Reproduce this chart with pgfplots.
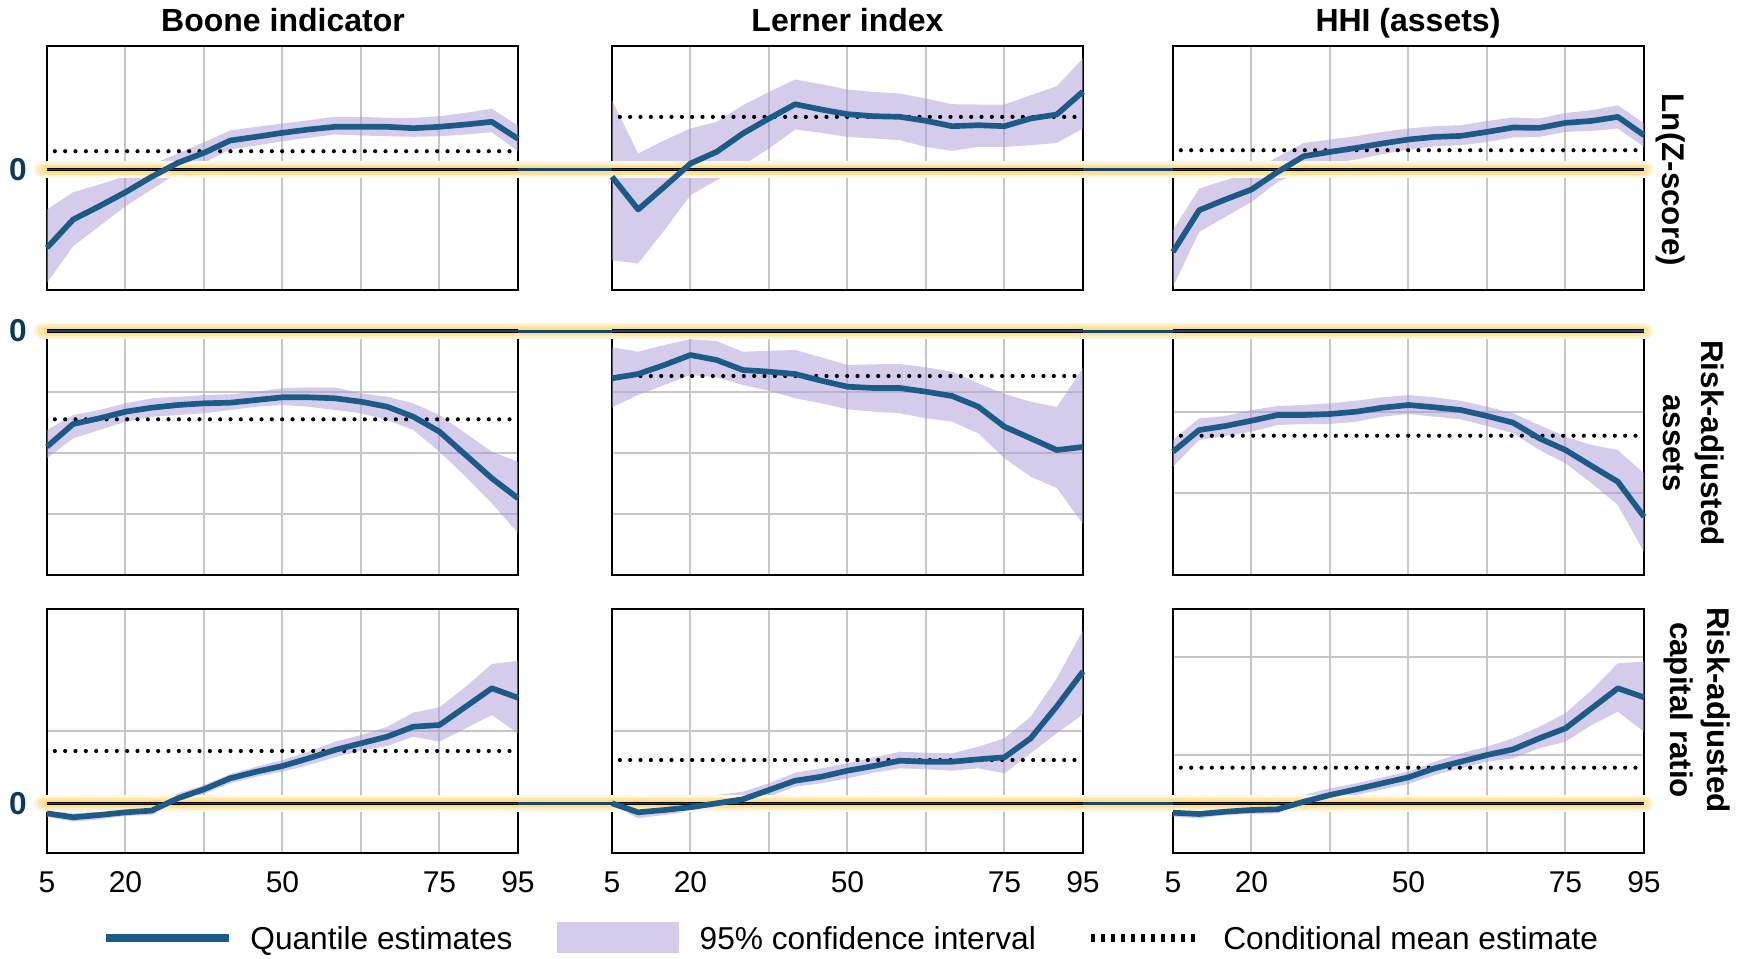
\documentclass[border=0pt]{standalone}
\usepackage{fontspec}
\setmainfont{Liberation Sans}
\setsansfont{Liberation Sans}
\usepackage{pgfplots}
\usepackage{pgfplotstable}
\pgfplotsset{compat=1.18}
\usepgfplotslibrary{fillbetween}

\definecolor{qblue}{HTML}{1C5A88}
\definecolor{bandc}{HTML}{AB99D9}
\definecolor{navy}{HTML}{0B3A5E}
\definecolor{gapblue}{HTML}{17476E}
\definecolor{glowA}{HTML}{FFF8E4}
\definecolor{glowB}{HTML}{FFF0C6}
\definecolor{glowC}{HTML}{FFE6A6}
\definecolor{glowD}{HTML}{FFDD8A}
\definecolor{gridc}{HTML}{C6C6C6}

% values in pixels above the zero line of each panel; columns: quantile index, estimate, lower, upper
\pgfplotstableread{
i q lo hi
0 -78.3 -113.3 -40
1 -50 -76.7 -22.7
2 -36.7 -56.7 -15
3 -22.7 -36.7 -6.7
4 -7.3 -20 5
5 6.7 -3.3 16
6 16.7 6.7 27.3
7 29 20 39
8 32.7 24 42.7
9 36.7 28.3 46
10 40 31.7 49.3
11 42.7 35 52.7
12 42.7 34 52.7
13 42.7 33.3 51.7
14 41.3 32.7 51.7
15 42.7 33.3 53.3
16 45 35 56.7
17 47.7 37.3 60.7
18 30.7 18.3 44
}\tabBone
\pgfplotstableread{
i q lo hi
0 -7.3 -90.7 69.3
1 -40 -94 16
2 -17.3 -60.7 29.3
3 6 -25.7 41
4 17.7 -10.7 47.6
5 36 4.3 64.3
6 51 21 77.6
7 65.3 40 90
8 60 36.6 85.3
9 55.3 32.6 80
10 53.3 31 77.6
11 52.7 29.3 76
12 48.7 22.6 71
13 43.3 18.6 65.3
14 44.3 22.6 65
15 43.3 22.6 65
16 51 24.3 74.3
17 55 26.6 83.3
18 78 41 111.3
}\tabLone
\pgfplotstableread{
i q lo hi
0 -82.4 -117.4 -60.7
1 -40.7 -62.4 -19
2 -30 -47.4 -10.7
3 -20 -32.4 -2.4
4 -2.4 -12.4 12.6
5 13.3 -0.7 26.6
6 17.6 6 30
7 21.6 10 33.3
8 26 15.3 37.6
9 30 20 41
10 32.6 23.3 43.3
11 33.6 24.3 44.3
12 37.6 27.6 48.6
13 42 32 52
14 41.6 32.6 51
15 46.6 37.6 56.6
16 48.6 38.6 59.3
17 52.6 41 64.3
18 34.3 22.6 46
}\tabHone
\pgfplotstableread{
i q lo hi
0 -115.7 -127.3 -99
1 -93 -107.3 -84
2 -87.3 -99 -79
3 -80.7 -90.7 -72.3
4 -76.7 -85.7 -67.3
5 -74 -84 -65.7
6 -72.3 -82.3 -64
7 -71.7 -79 -63.3
8 -69 -75.7 -60.7
9 -66.3 -74 -57.3
10 -66.3 -75.7 -56.3
11 -67.3 -79 -56.3
12 -70.7 -82.3 -62.3
13 -75.7 -89 -65.7
14 -85.7 -99 -72.3
15 -100.7 -120.7 -84
16 -124 -145.7 -102.3
17 -147.3 -172.3 -120.7
18 -167.3 -202 -130.7
}\tabBtwo
\pgfplotstableread{
i q lo hi
0 -47.3 -76.3 -16.3
1 -43 -64 -20.7
2 -34 -54 -14
3 -24 -44 -8.3
4 -29 -46.3 -10
5 -39 -54 -20.7
6 -40.7 -59.7 -19.7
7 -43 -67.3 -19
8 -49.7 -72.3 -26.3
9 -55.7 -78.3 -34
10 -57 -80.7 -33.3
11 -57 -82.3 -33
12 -60.7 -87.3 -36.3
13 -65 -90.7 -40.7
14 -75.7 -102.3 -52.3
15 -95.7 -127.3 -63
16 -107.3 -145.7 -70.7
17 -119 -157 -76
18 -116 -193 -37
}\tabLtwo
\pgfplotstableread{
i q lo hi
0 -120.7 -135.7 -109
1 -99 -109 -87.3
2 -95 -105 -85
3 -89.7 -100.7 -79
4 -84 -94 -75
5 -84 -93 -74
6 -83 -93 -72.3
7 -80.7 -90.7 -69.7
8 -76.7 -85.7 -66.3
9 -74 -83 -64
10 -76.3 -85.7 -66.3
11 -79 -88.3 -69.7
12 -85 -95 -75.7
13 -91.7 -102.3 -82.3
14 -107.3 -119 -94
15 -119 -132.3 -105.7
16 -135 -152.3 -114
17 -150.7 -174 -119
18 -185.7 -221 -142.3
}\tabHtwo
\pgfplotstableread{
i q lo hi
0 -10 -13.4 -6.7
1 -14 -18.4 -10
2 -11.7 -16 -8.3
3 -9 -12.7 -5
4 -7.3 -11.7 -1.7
5 5 0.6 10
6 14 9.3 18.3
7 25 20 29.3
8 31.6 26.6 36.6
9 37.3 31.6 43.3
10 45 38.3 51.6
11 53.3 46 61.6
12 60 52.6 68.3
13 66.6 57.3 76.6
14 76.6 66.6 90.6
15 78.3 61.6 96
16 96.6 75 116.6
17 115 88.3 139.3
18 105.6 70 142.6
}\tabBthree
\pgfplotstableread{
i q lo hi
0 0 -1.7 1.7
1 -9 -15 -5
2 -6.7 -11.7 -2.7
3 -4 -8.4 1.6
4 0 -3.4 8.3
5 4 -1.7 11.6
6 13.3 6.6 20
7 22.6 16.6 30.6
8 26.6 20 35
9 32.6 25 40
10 37.3 30.6 46
11 42.6 35 51.6
12 41.6 34 50.6
13 41.6 32.6 50
14 44 35 56.6
15 46 30 65
16 65 50 86.6
17 97 70 125
18 131.8 89 173
}\tabLthree
\pgfplotstableread{
i q lo hi
0 -9.4 -13.4 -6
1 -10.7 -15 -7.3
2 -8.4 -11.7 -5
3 -6.7 -10.7 -2.7
4 -6 -10 0
5 1.6 -3.4 8.3
6 8.3 1.6 15
7 14 8.3 20
8 20 14 26
9 26 19.3 31.6
10 35 28.3 41.6
11 41.6 35 50
12 48.3 41.6 56.6
13 54 45 65
14 65 55 76.6
15 75 61.6 90
16 95 78.3 113.3
17 115 91.6 140
18 106 71.6 141.6
}\tabHthree

\pgfplotsset{
  panel/.style={
    anchor=north west, scale only axis,
    width=141.3pt, height=73.2pt,
    xmin=0, xmax=18, clip=false,
    axis line style={line width=0.75pt, black},
    xtick={0,3,...,18}, xticklabels={},
    major tick length=0pt, ytick=\empty, yticklabels={},
    xmajorgrids, ymajorgrids,
    major grid style={line width=0.6pt, draw=gridc},
    xticklabel style={font=\fontsize{9}{10}\selectfont, yshift=-2pt},
  },
  row1/.style={ymin=-120.5, ymax=123.5},
  row2/.style={ymin=-244, ymax=0},
  row3/.style={ymin=-49.7, ymax=194.3, xticklabels={5,20,,50,,75,95}},
  qline/.style={line width=1.7pt, qblue, line join=round},
  meanline/.style={line width=1.25pt, black, line cap=round, dash pattern=on 0pt off 3.1pt},
}

% #1 left, #2 top, #3 options, #4 table, #5 conditional mean
\newcommand{\panel}[5]{%
  \begin{axis}[panel, at={(#1,#2)}, #3]
    \addplot[name path=hi, draw=none] table[x=i, y=hi] {#4};
    \addplot[name path=lo, draw=none] table[x=i, y=lo] {#4};
    \addplot[fill=bandc, fill opacity=0.5, draw=none] fill between[of=hi and lo];
    \draw[black, line width=1pt] (axis cs:0,0) -- (axis cs:18,0);
    \draw[gapblue, line width=0.35pt] (axis cs:0,0) -- (axis cs:18,0);
    \addplot[meanline] coordinates {(0.3,#5) (17.7,#5)};
    \addplot[qline] table[x=i, y=q] {#4};
  \end{axis}}

\begin{document}
\begin{tikzpicture}
\begin{scope}[x=0.3pt, y=-0.3pt]
  \path (0,0) rectangle (1749,959);
  \foreach \z in {169.5, 331, 803.3} {
    \draw[glowA, line width=5pt, line cap=round] (42,\z) -- (1645,\z);
    \draw[glowB, line width=4pt, line cap=round] (42,\z) -- (1645,\z);
    \draw[glowC, line width=3pt, line cap=round] (43,\z) -- (1644,\z);
    \draw[glowD, line width=2pt] (44,\z) -- (1644,\z);
    \draw[gapblue, line width=0.9pt] (47,\z) -- (1643,\z);
  }
\end{scope}

\panel{14.1pt}{-13.8pt}{row1}{\tabBone}{18.3}
\panel{183.6pt}{-13.8pt}{row1}{\tabLone}{52.6}
\panel{351.9pt}{-13.8pt}{row1}{\tabHone}{19.3}
\panel{14.1pt}{-99.3pt}{row2, ytick={-61,-122,-183}}{\tabBtwo}{-88.3}
\panel{183.6pt}{-99.3pt}{row2, ytick={-61,-122,-183}}{\tabLtwo}{-45}
\panel{351.9pt}{-99.3pt}{row2, ytick={-81,-162}}{\tabHtwo}{-104.7}
\panel{14.1pt}{-182.7pt}{row3, ytick={72.6}}{\tabBthree}{52.3}
\panel{183.6pt}{-182.7pt}{row3, ytick={72.6}}{\tabLthree}{43.3}
\panel{351.9pt}{-182.7pt}{row3, ytick={48.3,146}}{\tabHthree}{35.6}

\begin{scope}[x=0.3pt, y=-0.3pt]
  % column titles
  \foreach \cx/\t in {283/Boone indicator, 847.5/Lerner index, 1408/HHI (assets)}
    \node[anchor=base, inner sep=0pt, font=\bfseries\fontsize{9.6}{11}\selectfont] at (\cx,31.7) {\t};
  % zero labels
  \foreach \z in {169.5, 331, 803.3}
    \node[navy, inner sep=0pt, font=\bfseries\fontsize{9.5}{11}\selectfont] at (18,\z) {0};
  % row labels
  \node[rotate=-90, anchor=south, inner sep=0pt, font=\bfseries\fontsize{9.4}{11.2}\selectfont] at (1655,180) {Ln(Z-score)};
  \node[rotate=-90, anchor=south, align=center, inner sep=0pt, font=\bfseries\fontsize{9.4}{11.2}\selectfont] at (1663,443) {Risk-adjusted\\assets};
  \node[rotate=-90, anchor=south, align=center, inner sep=0pt, font=\bfseries\fontsize{9.4}{11.2}\selectfont] at (1663,710) {Risk-adjusted\\capital ratio};
  % legend
  \draw[qblue, line width=2.2pt] (106,938) -- (229,938);
  \node[anchor=base west, inner sep=0pt, font=\fontsize{9.5}{11}\selectfont] at (249.7,949.5) {Quantile estimates};
  \fill[bandc, fill opacity=0.5] (557,922) rectangle (679,953);
  \node[anchor=base west, inner sep=0pt, font=\fontsize{9.5}{11}\selectfont] at (699,949.5) {95\% confidence interval};
  \draw[black, line width=2.2pt, dash pattern=on 1.3pt off 1.7pt] (1091,938) -- (1199,938);
  \node[anchor=base west, inner sep=0pt, font=\fontsize{9.5}{11}\selectfont] at (1222.6,949.5) {Conditional mean estimate};
\end{scope}
\end{tikzpicture}
\end{document}
